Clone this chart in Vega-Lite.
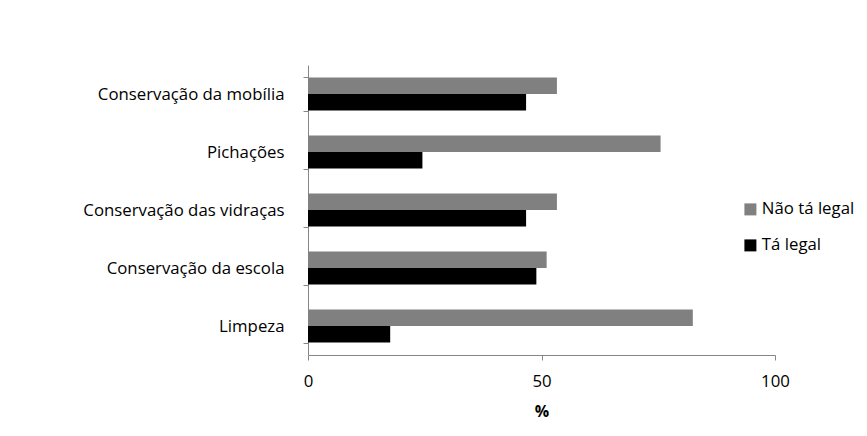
{
  "$schema": "https://vega.github.io/schema/vega-lite/v6.json",
  "autosize": "none",
  "width": 467,
  "height": 290,
  "padding": {"left": 308, "top": 65, "right": 92, "bottom": 81},
  "background": "white",
  "data": {"values": [
    {"item": "Conservação da mobília", "serie": "Não tá legal", "pct": 53.3},
    {"item": "Conservação da mobília", "serie": "Tá legal", "pct": 46.7},
    {"item": "Pichações", "serie": "Não tá legal", "pct": 75.5},
    {"item": "Pichações", "serie": "Tá legal", "pct": 24.5},
    {"item": "Conservação das vidraças", "serie": "Não tá legal", "pct": 53.3},
    {"item": "Conservação das vidraças", "serie": "Tá legal", "pct": 46.7},
    {"item": "Conservação da escola", "serie": "Não tá legal", "pct": 51.1},
    {"item": "Conservação da escola", "serie": "Tá legal", "pct": 48.9},
    {"item": "Limpeza", "serie": "Não tá legal", "pct": 82.4},
    {"item": "Limpeza", "serie": "Tá legal", "pct": 17.6}
  ]},
  "mark": {"type": "bar"},
  "encoding": {
    "y": {
      "field": "item", "type": "nominal",
      "sort": ["Conservação da mobília", "Pichações", "Conservação das vidraças", "Conservação da escola", "Limpeza"],
      "scale": {"paddingInner": 0.43, "paddingOuter": 0.215},
      "axis": {"title": null, "tickBand": "extent", "domainColor": "#868686", "tickColor": "#868686", "tickSize": 5, "labelFont": "Open Sans", "labelFontSize": 16.8, "labelColor": "#000", "labelPadding": 19, "labelLimit": 300}
    },
    "yOffset": {"field": "serie", "type": "nominal", "sort": ["Não tá legal", "Tá legal"]},
    "x": {
      "field": "pct", "type": "quantitative",
      "scale": {"domain": [0, 100], "nice": false},
      "axis": {"title": "%", "values": [0, 50, 100], "grid": false, "labelFlush": false, "domainColor": "#868686", "tickColor": "#868686", "tickSize": 5, "labelFont": "Open Sans", "labelFontSize": 16.8, "labelColor": "#000", "labelPadding": 13, "titleFont": "Open Sans", "titleFontSize": 16, "titleFontWeight": "bold", "titleColor": "#000", "titlePadding": 14}
    },
    "color": {
      "field": "serie", "type": "nominal",
      "scale": {"domain": ["Não tá legal", "Tá legal"], "range": ["#808080", "#000000"]},
      "legend": {"title": null, "orient": "none", "legendX": 434, "legendY": 136, "symbolType": "square", "symbolSize": 144, "symbolStrokeWidth": 0, "labelFont": "Open Sans", "labelFontSize": 16.8, "labelColor": "#000", "rowPadding": 18, "labelOffset": 3}
    }
  },
  "config": {"view": {"stroke": null}}
}
